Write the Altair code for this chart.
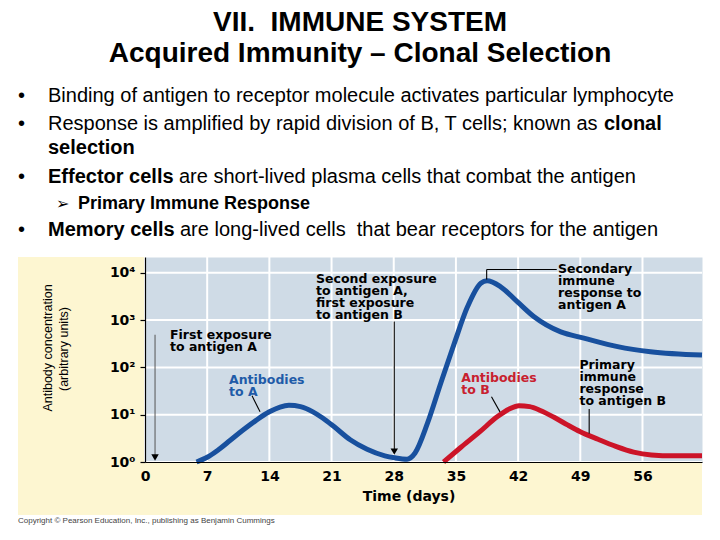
import altair as alt
import pandas as pd

# ---------------- data ----------------
days_a = [5.8, 7.0, 8.2, 9.6, 11.0, 12.5, 14.0, 15.2, 16.2, 17.5, 18.9, 20.0, 21.2, 23.1, 25.0,
          27.0, 28.1, 29.5, 30.4, 31.8, 33.3, 34.8, 36.3, 37.8, 38.5, 40.0, 41.9, 43.8, 46.8,
          49.4, 53.2, 56.9, 62.7]
conc_a = [1.0, 1.26, 1.78, 2.88, 4.68, 7.59, 11.5, 14.5, 15.8, 14.8, 11.5, 8.51, 5.75, 2.95,
          1.86, 1.35, 1.23, 1.15, 1.55, 6.61, 46.8, 316, 1905, 6026, 6761, 5129, 2455, 1175,
          562, 417, 275, 214, 182]
days_b = [33.6, 35.5, 37.7, 39.6, 41.0, 42.1, 43.3, 44.5, 46.0, 47.5, 49.0, 51.0, 53.0, 55.0,
          57.0, 59.5, 62.7]
conc_b = [1.0, 2.0, 4.37, 8.91, 13.2, 15.5, 14.8, 12.3, 8.91, 6.17, 4.37, 3.02, 2.14, 1.62,
          1.41, 1.35, 1.35]

x_ticks = [0, 7, 14, 21, 28, 35, 42, 49, 56]
y_ticks = [1, 10, 100, 1000, 10000]
y_tick_labels = ["10⁰", "10¹", "10²", "10³", "10⁴"]

# annotation anchors (day, log10 concentration)
ann_text = ["First exposure\nto antigen A",
            "Second exposure\nto antigen A,\nfirst exposure\nto antigen B",
            "Secondary\nimmune\nresponse to\nantigen A",
            "Antibodies\nto A",
            "Antibodies\nto B",
            "Primary\nimmune\nresponse\nto antigen B"]
ann_day = [2.81, 19.25, 46.5, 9.46, 35.6, 48.9]
ann_log = [2.60, 3.78, 4.00, 1.65, 1.69, 1.97]
ann_color = ["#000000", "#000000", "#000000", "#1f5ba8", "#c8202e", "#000000"]

# leader / arrow segments (day1, log1, day2, log2)
seg_d1 = [12.05, 39.0, 50.0, 38.46, 38.46, 28.06]
seg_l1 = [1.40, 1.38, 1.12, 3.86, 4.07, 2.97]
seg_d2 = [12.95, 39.96, 50.0, 38.46, 46.35, 28.06]
seg_l2 = [1.06, 1.06, 0.60, 4.07, 4.07, 0.25]
arrow1_d, arrow1_l1, arrow1_l2 = [1.13], [2.69], [0.12]
head_day = [1.13, 28.06]
head_log = [0.095, 0.22]

# ---------------- tables ----------------
curves = pd.DataFrame({
    "day": days_a + days_b,
    "conc": conc_a + conc_b,
    "series": ["A"] * len(days_a) + ["B"] * len(days_b),
})
ann = pd.DataFrame({"day": ann_day, "conc": [10 ** v for v in ann_log],
                    "text": ann_text, "color": ann_color})
segs = pd.DataFrame({"d1": seg_d1, "c1": [10 ** v for v in seg_l1],
                     "d2": seg_d2, "c2": [10 ** v for v in seg_l2]})
arrow1 = pd.DataFrame({"d1": arrow1_d, "c1": [10 ** v for v in arrow1_l1],
                       "d2": arrow1_d, "c2": [10 ** v for v in arrow1_l2]})
heads = pd.DataFrame({"day": head_day, "conc": [10 ** v for v in head_log]})
xgrid = pd.DataFrame({"t": x_ticks})
ygrid = pd.DataFrame({"t": y_ticks})

W, H = 557, 205
xscale = alt.Scale(domain=[0, 62.7], nice=False, zero=False)
yscale = alt.Scale(type="log", domain=[1, 21580], nice=False)
label_expr = "[" + ",".join("'%s'" % s for s in y_tick_labels) + "][round(log(datum.value)/LN10)]"

xaxis = alt.Axis(values=x_ticks, title=None, labelFont="DejaVu Sans", labelFontWeight="bold",
                 labelFontSize=14, labelColor="black", ticks=False, domainColor="black",
                 domainWidth=1.2, grid=False, labelPadding=7, labelFlush=False, zindex=1)
yaxis = alt.Axis(values=y_ticks, title=None, labelExpr=label_expr, labelFont="DejaVu Sans",
                 labelFontWeight="bold", labelFontSize=14, labelColor="black",
                 tickColor="black", tickSize=5, tickWidth=1.2, domainColor="black",
                 domainWidth=1.2, grid=False, labelPadding=5, zindex=1)


def X(f):
    return alt.X(f, type="quantitative", scale=xscale, axis=xaxis)


def Y(f):
    return alt.Y(f, type="quantitative", scale=yscale, axis=yaxis)


CH = "DejaVu Sans"
SLIDE = "Liberation Sans, Arial, sans-serif"


def label(t, vx, vy, font=SLIDE, size=20, weight="normal", align="left",
          baseline="alphabetic", color="black", angle=0):
    props = dict(font=font, fontSize=size, fontWeight=weight, align=align,
                 baseline=baseline, color=color)
    if angle:
        props["angle"] = angle
    return alt.Chart().mark_text(**props).encode(
        x=alt.value(vx), y=alt.value(vy), text=alt.value(t))


# yellow panel strips (outside the blue view)
yellow = "#fdf6d1"
strip_left = alt.Chart().mark_rect(color=yellow).encode(
    x=alt.value(-127), x2=alt.value(0), y=alt.value(0), y2=alt.value(258))
strip_bottom = alt.Chart().mark_rect(color=yellow).encode(
    x=alt.value(0), x2=alt.value(W), y=alt.value(H), y2=alt.value(258))

xgrid_layer = alt.Chart(xgrid).mark_rule(color="#ffffff", strokeWidth=2, opacity=1).encode(x=X("t"))
ygrid_layer = alt.Chart(ygrid).mark_rule(color="#ffffff", strokeWidth=2, opacity=1).encode(y=Y("t"))

lines = alt.Chart(curves).mark_line(strokeWidth=5, interpolate="monotone").encode(
    x=X("day"), y=Y("conc"),
    color=alt.Color("series:N", scale=alt.Scale(domain=["A", "B"], range=["#18509e", "#cc1428"]),
                    legend=None))

seg_layer = alt.Chart(segs).mark_rule(color="black", strokeWidth=1.1).encode(
    x=X("d1"), y=Y("c1"), x2="d2", y2="c2")
arrow1_layer = alt.Chart(arrow1).mark_rule(color="#555555", strokeWidth=1).encode(
    x=X("d1"), y=Y("c1"), x2="d2", y2="c2")
head_layer = alt.Chart(heads).mark_point(shape="triangle-down", filled=True, size=55,
                                         color="black", opacity=1).encode(
    x=X("day"), y=Y("conc"))

ann_layer = alt.Chart(ann).mark_text(lineBreak="\n", lineHeight=12, align="left",
                                     baseline="alphabetic", font=CH, fontWeight="bold",
                                     fontSize=12.5).encode(
    x=X("day"), y=Y("conc"), text="text:N", color=alt.Color("color:N", scale=None))

NB = "\u00a0"
texts = [
    label("VII." + NB + " IMMUNE SYSTEM", 215, -226, size=28, weight="bold", align="center"),
    label("Acquired Immunity – Clonal Selection", 215, -195, size=28, weight="bold", align="center"),
    label("•", -127, -155), label("•", -127, -127), label("•", -127, -74), label("•", -127, -21),
    label("Binding of antigen to receptor molecule activates particular lymphocyte", -97, -155),
    label("Response is amplified by rapid division of B, T cells; known as", -97, -127),
    label("clonal", 459, -127, weight="bold"),
    label("selection", -97, -103, weight="bold"),
    label("Effector cells", -97, -74, weight="bold"),
    label("are short-lived plasma cells that combat the antigen", 34, -74),
    label("➢", -89, -48, font="DejaVu Sans", size=16),
    label("Primary Immune Response", -67, -48, size=18, weight="bold"),
    label("Memory cells", -97, -21, weight="bold"),
    label("are long-lived cells" + NB + " that bear receptors for the antigen", 35, -21),
    # axis titles
    label("Antibody concentration", -97, 91, font=SLIDE,
          size=12.5, align="center", baseline="middle", angle=270),
    label("(arbitrary units)", -81, 92, font=SLIDE,
          size=12.5, align="center", baseline="middle", angle=270),
    label("Time (days)", 264, 240, font=CH, size=14, weight="bold", align="center", baseline="middle"),
    label("Copyright © Pearson Education, Inc., publishing as Benjamin Cummings", -127, 264,
          size=8, color="#444444", baseline="middle"),
]

chart = alt.layer(
    strip_left, strip_bottom, xgrid_layer, ygrid_layer, lines, seg_layer, arrow1_layer,
    head_layer, ann_layer, *texts
).properties(
    width=W, height=H,
    autosize=alt.AutoSizeParams(type="none"),
    padding={"left": 137, "top": 249, "right": 10, "bottom": 68},
    background="white",
).configure_view(fill="#cfdbe6", stroke="transparent")

chart.save("out.html", embed_options={"renderer": "svg", "actions": False})
